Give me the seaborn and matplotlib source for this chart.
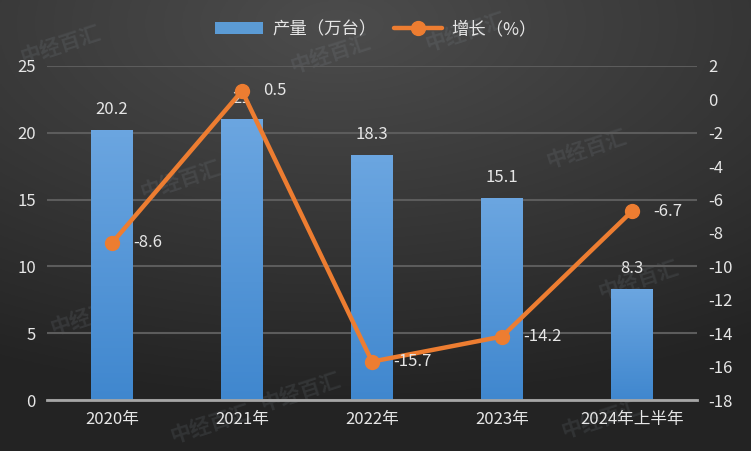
import numpy as np
import pandas as pd
import matplotlib
matplotlib.use("Agg")
import matplotlib.pyplot as plt
import seaborn as sns
from matplotlib.lines import Line2D
from matplotlib.patches import Patch

categories = ["2020年", "2021年", "2022年", "2023年", "2024年上半年"]
production = [20.2, 21, 18.3, 15.1, 8.3]
growth = [-8.6, 0.5, -15.7, -14.2, -6.7]
prod_labels = ["20.2", "21", "18.3", "15.1", "8.3"]
growth_labels = ["-8.6", "0.5", "-15.7", "-14.2", "-6.7"]
left_ticks = [0, 5, 10, 15, 20, 25]
right_ticks = list(range(-18, 3, 2))

sns.set_theme(style="dark")
plt.rcParams['font.family'] = ['Noto Sans CJK SC', 'DejaVu Sans']
plt.rcParams['axes.unicode_minus'] = False

txt = "#e6e6e6"
orange = "#ED7D31"

fig = plt.figure(figsize=(7.51, 4.51), dpi=100)

# background gradient
bg = fig.add_axes([0, 0, 1, 1])
yy, xx = np.mgrid[0:1:200j, 0:1:300j]
d = np.sqrt(((xx - 0.45) * 1.0) ** 2 + ((yy - 0.05) * 1.2) ** 2)
val = 0.30 - 0.16 * np.clip(d, 0, 1)
bg.imshow(np.dstack([val, val, val]), extent=[0, 1, 0, 1], aspect="auto", origin="upper")
bg.set_axis_off()

# watermarks
for (wx, wy) in [(0.08, 0.9), (0.24, 0.6), (0.44, 0.88), (0.78, 0.67), (0.12, 0.3),
                 (0.4, 0.13), (0.85, 0.38), (0.62, 0.93), (0.28, 0.06), (0.8, 0.07)]:
    bg.text(wx, wy, "中经百汇", transform=bg.transAxes, rotation=18, fontsize=15,
            color="#9aa6b0", alpha=0.13, ha="center", va="center", fontweight="bold")

ax = fig.add_axes([0.0626, 0.113, 0.8655, 0.741])
ax.set_facecolor("none")
df = pd.DataFrame({"cat": categories, "prod": production})
sns.barplot(data=df, x="cat", y="prod", ax=ax, width=0.32, color="#5b9bd5",
            saturation=1, zorder=2, linewidth=0, edgecolor="none")

# gradient on bars
grad = np.linspace(0, 1, 100).reshape(-1, 1)
top_c = np.array([0.42, 0.65, 0.88])
bot_c = np.array([0.25, 0.53, 0.81])
gimg = top_c * (1 - grad[..., None]) + bot_c * grad[..., None]
gimg = gimg.reshape(100, 1, 3)
for p in ax.patches:
    x0, y0 = p.get_x(), p.get_y()
    w, h = p.get_width(), p.get_height()
    im = ax.imshow(gimg, extent=[x0, x0 + w, y0, y0 + h], aspect="auto", origin="upper", zorder=2.5)
    im.set_clip_path(p)

ax.set_xlim(-0.5, 4.5)
ax.set_ylim(0, 25)
ax.set_yticks(left_ticks)
ax.yaxis.grid(True, color="#5c5c5c", linewidth=1.5)
ax.xaxis.grid(False)
ax.set_axisbelow(True)
for s in ["top", "right", "left"]:
    ax.spines[s].set_visible(False)
ax.spines["bottom"].set_color("#a6a6a6")
ax.spines["bottom"].set_linewidth(2)
ax.tick_params(axis="both", colors=txt, labelsize=12, length=0, pad=8)
ax.set_xlabel("")
ax.set_ylabel("")

for i, (v, lab) in enumerate(zip(production, prod_labels)):
    ax.text(i, v + 0.9, lab, ha="center", va="bottom", color=txt, fontsize=12, zorder=3)

ax2 = ax.twinx()
ax2.set_ylim(-18, 2)
ax2.set_yticks(right_ticks)
ax2.grid(False)
ax2.set_facecolor("none")
for s in ["top", "right", "left", "bottom"]:
    ax2.spines[s].set_visible(False)
ax2.tick_params(axis="y", colors=txt, labelsize=12, length=0, pad=8)
ax2.plot(range(len(categories)), growth, color=orange, linewidth=3.2, marker="o",
         markersize=10, zorder=5)
for i, (v, lab) in enumerate(zip(growth, growth_labels)):
    ax2.text(i + 0.165, v, lab, ha="left", va="center", color=txt, fontsize=12, zorder=6)

handles = [Patch(facecolor="#5b9bd5", edgecolor="none"),
           Line2D([0], [0], color=orange, linewidth=3.2, marker="o", markersize=10)]
fig.legend(handles, ["产量（万台）", "增长（%）"], loc="center", bbox_to_anchor=(0.5, 0.935),
           ncol=2, frameon=False, fontsize=12.5, labelcolor=txt, handlelength=2.8,
           columnspacing=1.0, handletextpad=0.5)

fig.savefig("out.png", dpi=100)
